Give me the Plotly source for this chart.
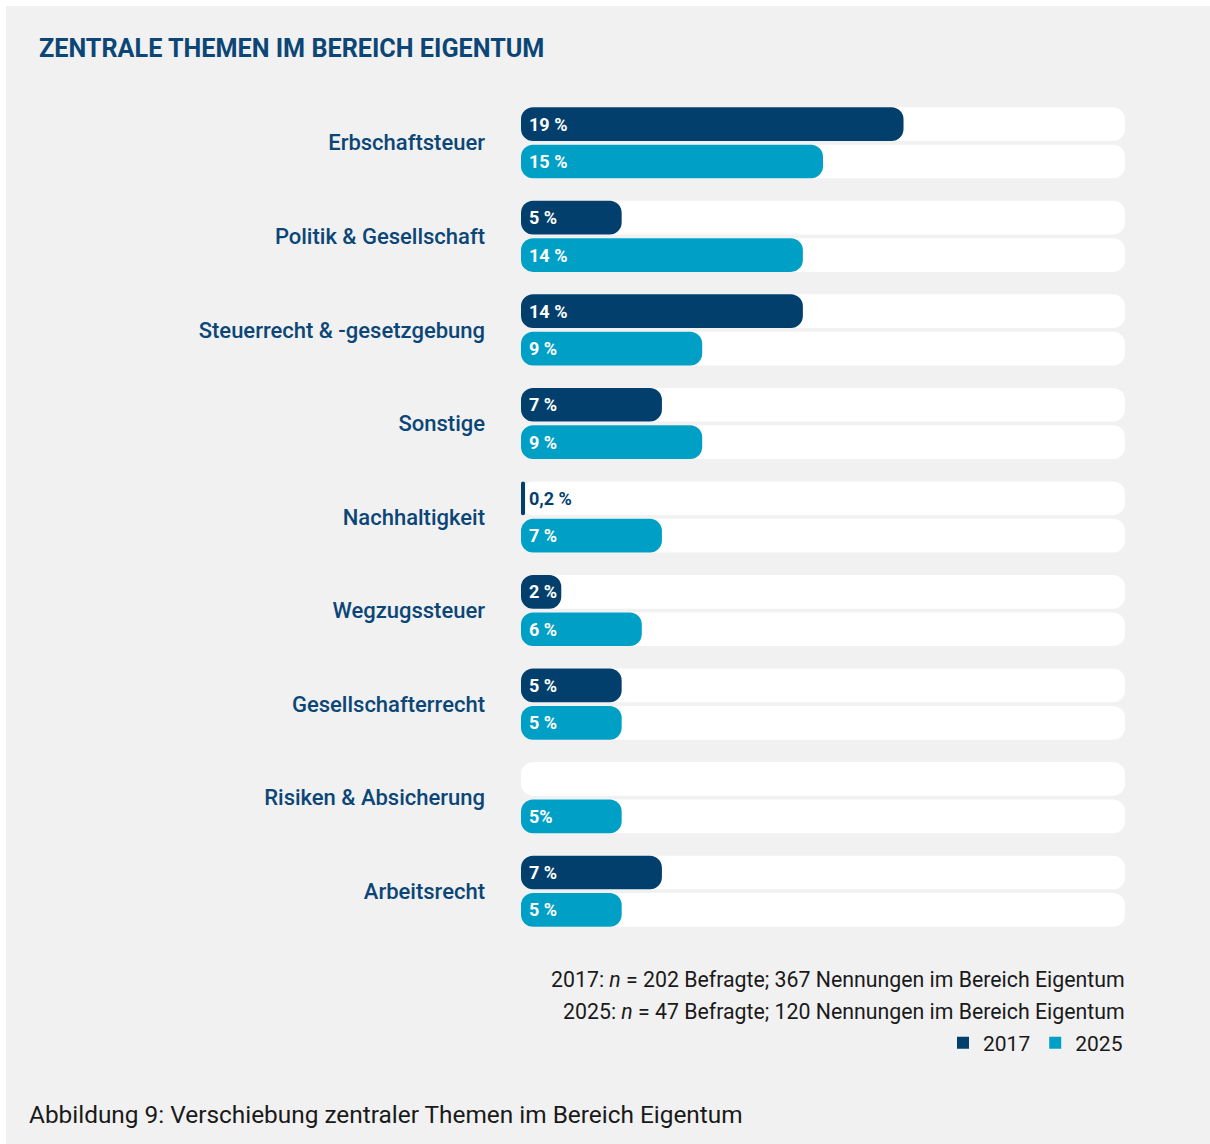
import plotly.graph_objects as go

# ---------------- data ----------------
categories = [
    "Erbschaftsteuer",
    "Politik & Gesellschaft",
    "Steuerrecht & -gesetzgebung",
    "Sonstige",
    "Nachhaltigkeit",
    "Wegzugssteuer",
    "Gesellschafterrecht",
    "Risiken & Absicherung",
    "Arbeitsrecht",
]
values_2017 = [19, 5, 14, 7, 0.2, 2, 5, None, 7]
values_2025 = [15, 14, 9, 9, 7, 6, 5, 5, 5]
labels_2017 = ["19 %", "5 %", "14 %", "7 %", "0,2 %", "2 %", "5 %", "", "7 %"]
labels_2025 = ["15 %", "14 %", "9 %", "9 %", "7 %", "6 %", "5 %", "5%", "5 %"]
series_names = ["2017", "2025"]
axis_max = 30

title_text = "ZENTRALE THEMEN IM BEREICH EIGENTUM"
note_lines = [
    "2017: <i>n</i> = 202 Befragte; 367 Nennungen im Bereich Eigentum",
    "2025: <i>n</i> = 47 Befragte; 120 Nennungen im Bereich Eigentum",
]
caption_text = "Abbildung 9: Verschiebung zentraler Themen im Bereich Eigentum"

# ---------------- style ----------------
W, H = 1210, 1144
M_L, M_R, M_T, M_B = 521, 85, 96, 206
PLOT_H = H - M_T - M_B
PLOT_W = W - M_L - M_R

BG = "#f1f1f1"
DARK = "#023f6c"
LIGHT = "#00a0c6"
LABEL = "#0b4677"
TEXT = "#1a1a1a"
FONT = "Roboto"
BAR_W = 0.36
OFFSETS = [-0.38, 0.02]
RADIUS = 12


def py(pix):
    """pixel y (from top of page) -> paper y"""
    return 1 - (pix - M_T) / PLOT_H


def px(pix):
    """pixel x (from left of page) -> paper x"""
    return (pix - M_L) / PLOT_W


fig = go.Figure()


def add_rounded(values, color, offset):
    """Floating bar (explicit base) -> rounded on both ends."""
    fig.add_trace(go.Bar(
        y=categories, x=values, base=[0] * len(values),
        orientation="h", offset=offset, width=BAR_W,
        marker=dict(color=color, cornerradius=RADIUS, line=dict(width=0)),
        hoverinfo="skip", showlegend=False,
    ))


# white tracks
track = [axis_max] * len(categories)
for off in OFFSETS:
    add_rounded(track, "#ffffff", off)

# value bars
add_rounded(values_2017, DARK, OFFSETS[0])
add_rounded(values_2025, LIGHT, OFFSETS[1])

# legend entries (square symbols)
for name, color in zip(series_names, [DARK, LIGHT]):
    fig.add_trace(go.Bar(
        y=[None], x=[None], orientation="h", name=name,
        marker=dict(color=color, line=dict(width=0)), showlegend=True,
        hoverinfo="skip",
    ))

annotations = []
# value labels
bar_px = BAR_W * PLOT_H / len(categories)
gap_shift = (bar_px + 0.04 * PLOT_H / len(categories)) / 2
for vals, labs, sh in [(values_2017, labels_2017, gap_shift),
                       (values_2025, labels_2025, -gap_shift)]:
    for cat, v, lab in zip(categories, vals, labs):
        if not lab:
            continue
        annotations.append(dict(
            x=0, y=cat, xref="x", yref="y", xanchor="left", yanchor="middle",
            xshift=6, yshift=sh, text=lab, showarrow=False,
            font=dict(family=FONT, size=18, weight=700,
                      color="#ffffff" if (v is not None and v >= 1) else DARK),
        ))

# notes
for pix_y, line in zip([979, 1011], note_lines):
    annotations.append(dict(
        x=px(1127), y=py(pix_y), xref="paper", yref="paper",
        xanchor="right", yanchor="middle", text=line, showarrow=False,
        font=dict(family=FONT, size=21.3, color=TEXT),
    ))

# caption
annotations.append(dict(
    x=px(27), y=py(1114), xref="paper", yref="paper",
    xanchor="left", yanchor="middle", text=caption_text, showarrow=False,
    font=dict(family=FONT, size=24.4, color=TEXT),
))

# title
annotations.append(dict(
    x=px(37), y=py(49), xref="paper", yref="paper",
    xanchor="left", yanchor="middle", text=f"<b>{title_text}</b>", showarrow=False,
    font=dict(family=FONT, size=25.2, color=LABEL),
))

shapes = [
    dict(type="rect", xref="paper", yref="paper", x0=px(0), x1=px(6),
         y0=py(H), y1=py(0), fillcolor="#ffffff", line=dict(width=0), layer="below"),
    dict(type="rect", xref="paper", yref="paper", x0=px(0), x1=px(W),
         y0=py(6), y1=py(0), fillcolor="#ffffff", line=dict(width=0), layer="below"),
]

fig.update_layout(
    width=W, height=H,
    margin=dict(l=M_L, r=M_R, t=M_T, b=M_B, pad=0),
    paper_bgcolor=BG, plot_bgcolor=BG,
    barmode="overlay",
    font=dict(family=FONT, color=TEXT),
    xaxis=dict(range=[0, axis_max], visible=False, fixedrange=True),
    yaxis=dict(
        type="category", range=[len(categories) - 0.5, -0.5],
        showgrid=False, zeroline=False, showline=False, ticks="",
        ticklabelstandoff=35,
        tickfont=dict(family=FONT, size=22, weight=500, color=LABEL),
        fixedrange=True,
    ),
    showlegend=True,
    legend=dict(
        orientation="h", x=px(1128), xanchor="right", y=py(1043), yanchor="middle",
        font=dict(family=FONT, size=21, color=TEXT), bgcolor="rgba(0,0,0,0)",
        itemclick=False, itemdoubleclick=False, traceorder="normal",
    ),
    annotations=annotations,
    shapes=shapes,
)

fig.write_html("out.html")
